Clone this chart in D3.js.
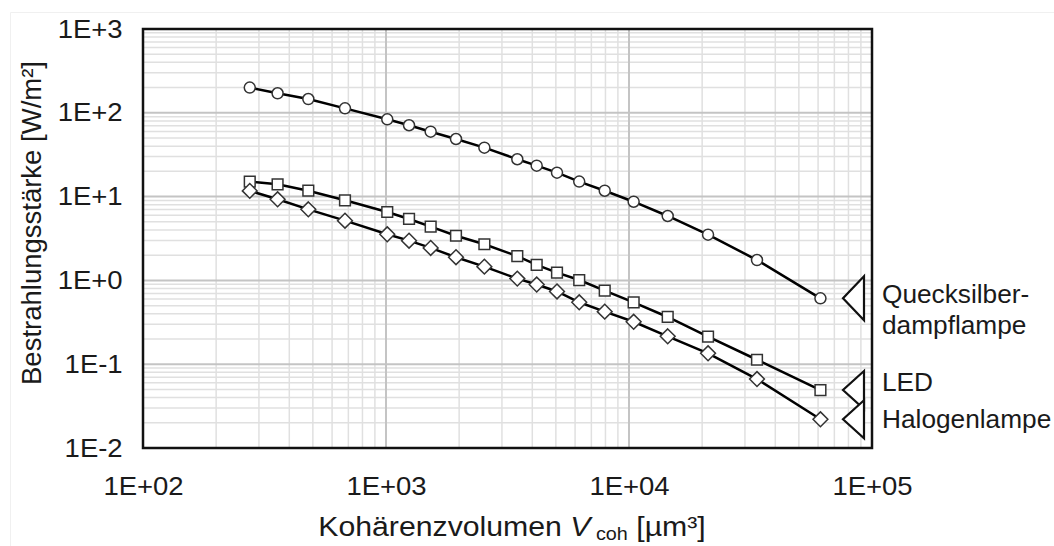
<!DOCTYPE html>
<html>
<head>
<meta charset="utf-8">
<script src="https://cdn.jsdelivr.net/npm/d3@7"></script>
<style>
  html, body { margin: 0; padding: 0; background: #fff; }
  svg { display: block; }
  text { font-family: "Liberation Sans", Arial, sans-serif; fill: #1a1a1a; }
</style>
</head>
<body>
<svg id="chart" width="1054" height="546"></svg>
<script>
// Coherence volume (µm³), shared by all three light sources
const volumes = [275, 358, 479, 678, 1012, 1244, 1527, 1941, 2540, 3470,
                 4170, 5055, 6240, 7945, 10450, 14430, 21150, 33630, 61350];

// Irradiance (W/m²) per source
const mercury = [200, 171, 146, 113, 83.6, 71, 59.5, 48.7, 38.4, 27.9,
                 23.4, 19.3, 15.1, 11.75, 8.69, 5.87, 3.51, 1.75, 0.611];
const led = [15.1, 14.0, 11.75, 9.04, 6.55, 5.41, 4.38, 3.41, 2.70, 1.95,
             1.53, 1.24, 1.01, 0.754, 0.548, 0.366, 0.213, 0.113, 0.0492];
const halogen = [11.7, 9.29, 7.05, 5.16, 3.55, 2.98, 2.44, 1.89, 1.46, 1.05,
                 0.893, 0.738, 0.548, 0.424, 0.321, 0.215, 0.135, 0.0665, 0.0220];

const seriesNames = ["Quecksilber-\ndampflampe", "LED", "Halogenlampe"];
const seriesMarkers = ["circle", "square", "diamond"];

// Axis tick values and their labels
const xTicks = [1e2, 1e3, 1e4, 1e5];
const xTickLabels = ["1E+02", "1E+03", "1E+04", "1E+05"];
const yTicks = [1e-2, 1e-1, 1e0, 1e1, 1e2, 1e3];
const yTickLabels = ["1E-2", "1E-1", "1E+0", "1E+1", "1E+2", "1E+3"];

// the typeface is set slightly wide
const WIDE = "scale(1.1,1)";
const WIDE_LABEL = "scale(1.05,1)";

const svg = d3.select("#chart");

// faint frame of the figure background
svg.append("path")
  .attr("d", "M10.5,546 V12.5 H1054")
  .attr("fill", "none").attr("stroke", "#f0f0f0").attr("stroke-width", 1);

const plot = { left: 143, right: 872, top: 29, bottom: 448 };

const x = d3.scaleLog().domain([1e2, 1e5]).range([plot.left, plot.right]);
const y = d3.scaleLog().domain([1e-2, 1e3]).range([plot.bottom, plot.top]);

// minor grid values: 2..9 within each decade
function minorValues(lo, hi) {
  const out = [];
  for (let d = lo; d < hi; d *= 10) for (let k = 2; k <= 9; k++) out.push(d * k);
  return out;
}

const grid = svg.append("g");
grid.selectAll(".vminor").data(minorValues(1e2, 1e5)).join("line")
  .attr("x1", d => x(d)).attr("x2", d => x(d))
  .attr("y1", plot.top).attr("y2", plot.bottom)
  .attr("stroke", "#e0e0e0").attr("stroke-width", 1.5);
grid.selectAll(".hminor").data(minorValues(1e-2, 1e3)).join("line")
  .attr("y1", d => y(d)).attr("y2", d => y(d))
  .attr("x1", plot.left).attr("x2", plot.right)
  .attr("stroke", "#e0e0e0").attr("stroke-width", 1.5);
grid.selectAll(".vmajor").data(xTicks.slice(1, -1)).join("line")
  .attr("x1", d => x(d)).attr("x2", d => x(d))
  .attr("y1", plot.top).attr("y2", plot.bottom)
  .attr("stroke", "#c4c4c4").attr("stroke-width", 2);
grid.selectAll(".hmajor").data(yTicks.slice(1, -1)).join("line")
  .attr("y1", d => y(d)).attr("y2", d => y(d))
  .attr("x1", plot.left).attr("x2", plot.right)
  .attr("stroke", "#c4c4c4").attr("stroke-width", 2);

// axes (labels only, frame drawn separately)
const xAxis = d3.axisBottom(x).tickValues(xTicks)
  .tickFormat((d, i) => xTickLabels[i]).tickSize(0).tickPadding(0);
svg.append("g").attr("transform", `translate(0,${plot.bottom + 29})`).call(xAxis)
  .call(g => g.select(".domain").remove())
  .selectAll("text").attr("font-size", 25).attr("fill", "#1a1a1a")
  .attr("transform", WIDE)
  .attr("font-family", "Liberation Sans, Arial, sans-serif");

const yAxis = d3.axisLeft(y).tickValues(yTicks)
  .tickFormat((d, i) => yTickLabels[i]).tickSize(0).tickPadding(18.5);
svg.append("g").attr("transform", `translate(${plot.left},0)`).call(yAxis)
  .call(g => g.select(".domain").remove())
  .selectAll("text").attr("font-size", 25).attr("fill", "#1a1a1a")
  .attr("transform", WIDE)
  .attr("font-family", "Liberation Sans, Arial, sans-serif");

// frame
svg.append("rect")
  .attr("x", plot.left).attr("y", plot.top)
  .attr("width", plot.right - plot.left).attr("height", plot.bottom - plot.top)
  .attr("fill", "none").attr("stroke", "#111").attr("stroke-width", 2.5);

// series
const seriesValues = [mercury, led, halogen];
const line = d3.line().x(d => x(d[0])).y(d => y(d[1]));

seriesValues.forEach((vals, si) => {
  const pts = volumes.map((v, i) => [v, vals[i]]);
  svg.append("path").datum(pts)
    .attr("d", line).attr("fill", "none")
    .attr("stroke", "#000").attr("stroke-width", 2.5);

  const g = svg.append("g");
  const kind = seriesMarkers[si];
  if (kind === "circle") {
    g.selectAll("circle").data(pts).join("circle")
      .attr("cx", d => x(d[0])).attr("cy", d => y(d[1])).attr("r", 5.5)
      .attr("fill", "#fff").attr("stroke", "#333").attr("stroke-width", 1.5);
  } else {
    const sym = kind === "square"
      ? d3.symbol().type(d3.symbolSquare).size(115)
      : d3.symbol().type(d3.symbolDiamond2).size(140);
    g.selectAll("path").data(pts).join("path")
      .attr("d", sym)
      .attr("transform", d => `translate(${x(d[0])},${y(d[1])})`)
      .attr("fill", "#fff").attr("stroke", "#333").attr("stroke-width", 1.5);
  }
});

// end-of-series pointers and labels
const pointerHalf = [22, 19, 19];
const labelBaselines = [[303, 334], [391], [428]];
seriesValues.forEach((vals, si) => {
  const ty = y(vals[vals.length - 1]);
  const h = pointerHalf[si];
  svg.append("path")
    .attr("d", `M864,${ty - h} L843,${ty} L864,${ty + h} Z`)
    .attr("fill", "#fff").attr("stroke", "#111").attr("stroke-width", 2.2)
    .attr("stroke-linejoin", "miter");
  const lines = seriesNames[si].split("\n");
  const t = svg.append("g").attr("transform", `translate(882,0) ${WIDE_LABEL}`)
    .append("text").attr("font-size", 25);
  lines.forEach((s, li) => {
    t.append("tspan").attr("x", 0).attr("y", labelBaselines[si][li]).text(s);
  });
});

// axis titles
svg.append("text")
  .attr("transform", "translate(41,223) rotate(-90)")
  .attr("text-anchor", "middle").attr("font-size", 27.5)
  .text("Bestrahlungsstärke [W/m²]");

const xt = svg.append("g").attr("transform", `translate(512,536) ${WIDE}`)
  .append("text")
  .attr("x", 0).attr("y", 0)
  .attr("text-anchor", "middle").attr("font-size", 27.5);
xt.append("tspan").text("Kohärenzvolumen ");
xt.append("tspan").attr("font-style", "italic").text("V");
xt.append("tspan").attr("font-size", 18).attr("dy", 4).text(" coh");
xt.append("tspan").attr("dy", -4).text(" [µm³]");
</script>
</body>
</html>
